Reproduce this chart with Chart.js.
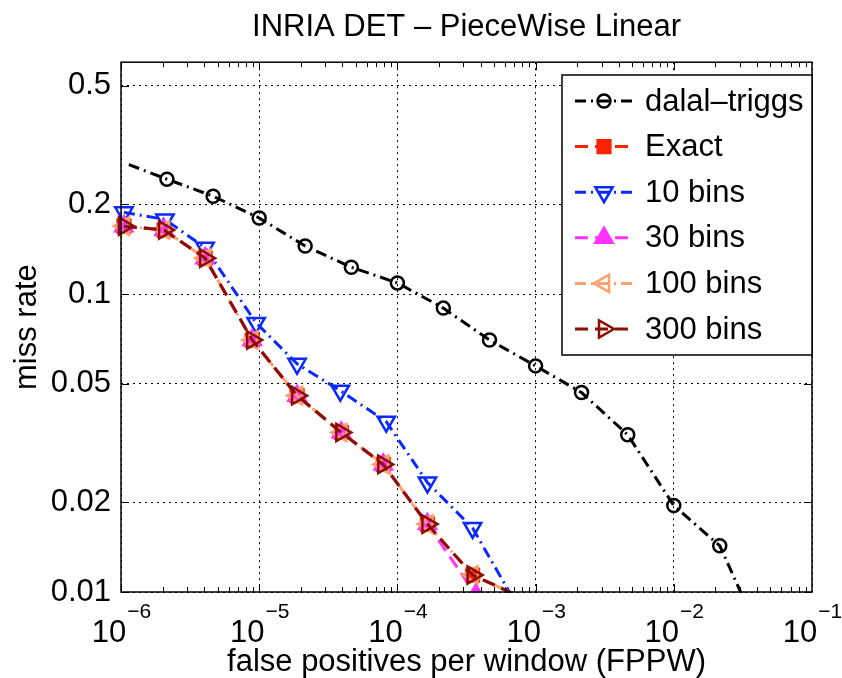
<!DOCTYPE html>
<html>
<head>
<meta charset="utf-8">
<script src="https://cdn.jsdelivr.net/npm/chart.js@4.4.1/dist/chart.umd.min.js"></script>
<style>
  html, body { margin: 0; padding: 0; background: #fff; }
</style>
</head>
<body>
<canvas id="det" width="842" height="678"></canvas>
<script>
// ---- data (x = false positives per window, y = miss rate)
const seriesNames = ['dalal\u2013triggs', 'Exact', '10 bins', '30 bins', '100 bins', '300 bins'];

const dalalFppw = [1.14e-6, 2.15e-6, 4.64e-6, 1e-5, 2.15e-5, 4.64e-5, 1e-4, 2.15e-4, 4.64e-4, 1e-3, 2.15e-3, 4.64e-3, 1e-2, 2.15e-2, 3.2e-2];
const dalalMiss = [0.272, 0.243, 0.213, 0.180, 0.145, 0.123, 0.109, 0.0897, 0.0701, 0.0574, 0.0467, 0.0337, 0.0195, 0.0143, 0.0095];

const exactFppw = [1.05e-6, 2.05e-6, 4.06e-6, 8.9e-6, 1.88e-5, 3.93e-5, 7.9e-5, 1.65e-4, 3.5e-4, 6.8e-4];
const exactMiss = [0.169, 0.164, 0.132, 0.0701, 0.0456, 0.0343, 0.0268, 0.0169, 0.0114, 0.0099];

const bins10Fppw = [1.05e-6, 2.08e-6, 4.06e-6, 9.5e-6, 1.88e-5, 3.86e-5, 8.3e-5, 1.65e-4, 3.5e-4, 6.7e-4];
const bins10Miss = [0.188, 0.178, 0.143, 0.080, 0.0583, 0.0474, 0.0373, 0.0233, 0.0164, 0.0097];

const bins30Fppw = [1.05e-6, 2.05e-6, 4.06e-6, 8.9e-6, 1.88e-5, 3.93e-5, 7.9e-5, 1.65e-4, 3.7e-4];
const bins30Miss = [0.169, 0.164, 0.132, 0.0701, 0.0456, 0.0343, 0.0268, 0.0169, 0.0098];

const bins100Fppw = [1.05e-6, 2.05e-6, 4.06e-6, 8.9e-6, 1.88e-5, 3.93e-5, 7.9e-5, 1.65e-4, 3.5e-4, 6.8e-4];
const bins100Miss = [0.169, 0.164, 0.132, 0.0701, 0.0456, 0.0343, 0.0268, 0.0169, 0.0114, 0.0099];

const bins300Fppw = [1.05e-6, 2.05e-6, 4.06e-6, 8.9e-6, 1.88e-5, 3.93e-5, 7.9e-5, 1.65e-4, 3.5e-4, 6.8e-4];
const bins300Miss = [0.169, 0.164, 0.132, 0.0701, 0.0456, 0.0343, 0.0268, 0.0169, 0.0114, 0.0099];

const xTickValues = [1e-6, 1e-5, 1e-4, 1e-3, 1e-2, 1e-1];
const xTickExponents = ['\u22126', '\u22125', '\u22124', '\u22123', '\u22122', '\u22121'];
const yTickValues = [0.01, 0.02, 0.05, 0.1, 0.2, 0.5];
const yTickLabels = ['0.01', '0.02', '0.05', '0.1', '0.2', '0.5'];

const FONT = "'Liberation Sans', Arial, Helvetica, sans-serif";
const DASHED = [13, 7];
const DASHDOT = [11, 5, 2, 5];

const pts = (xs, ys) => xs.map((x, i) => ({ x, y: ys[i] }));
// lines that run on past the last marker (or start before the first) get no marker there
const markerAt = (r, skipFirst, skipLast) => c => {
  const n = c.dataset.data.length;
  if ((skipFirst && c.dataIndex === 0) || (skipLast && c.dataIndex === n - 1)) return 0;
  return r;
};

function series(label, xs, ys, color, dash, style, rot, r, filled, skipFirst, skipLast, order) {
  return {
    label,
    data: pts(xs, ys),
    borderColor: color,
    borderWidth: 3,
    borderDash: dash,
    pointStyle: style,
    pointRotation: rot,
    pointRadius: markerAt(r, skipFirst, skipLast),
    pointBorderColor: color,
    pointBorderWidth: 2.5,
    pointBackgroundColor: filled ? color : 'rgba(0,0,0,0)',
    tension: 0,
    fill: false,
    order,
    clip: { left: 14, top: 0, right: 0, bottom: 1 }
  };
}

const datasets = [
  series(seriesNames[0], dalalFppw, dalalMiss, '#000000', DASHDOT, 'circle', 0, 6.5, false, true, true, 5),
  series(seriesNames[1], exactFppw, exactMiss, '#ff2200', DASHED, 'rect', 0, 9, true, false, true, 4),
  series(seriesNames[2], bins10Fppw, bins10Miss, '#0a28ff', DASHDOT, 'triangle', 180, 10, false, false, true, 3),
  series(seriesNames[3], bins30Fppw, bins30Miss, '#ff33ff', DASHED, 'triangle', 0, 10, true, false, false, 2),
  series(seriesNames[4], bins100Fppw, bins100Miss, '#ffa070', DASHDOT, 'triangle', 270, 10, false, false, true, 1),
  series(seriesNames[5], bins300Fppw, bins300Miss, '#8b0f00', DASHED, 'triangle', 90, 10, false, false, true, 0)
];

// box, inward ticks, superscript x labels
const axisDecor = {
  id: 'axisDecor',
  afterDatasetsDraw(chart) {
    const { ctx, chartArea: a, scales: { x, y } } = chart;
    ctx.save();
    ctx.strokeStyle = '#000';
    ctx.lineWidth = 1;
    ctx.beginPath();
    for (let d = -6; d < -1; d++) {
      for (let m = 1; m <= 9; m++) {
        const px = Math.round(x.getPixelForValue(m * Math.pow(10, d))) + 0.5;
        const len = m === 1 ? 8 : 5;
        ctx.moveTo(px, a.bottom); ctx.lineTo(px, a.bottom - len);
        ctx.moveTo(px, a.top); ctx.lineTo(px, a.top + len);
      }
    }
    yTickValues.forEach(v => {
      const py = Math.round(y.getPixelForValue(v)) + 0.5;
      ctx.moveTo(a.left, py); ctx.lineTo(a.left + 8, py);
      ctx.moveTo(a.right, py); ctx.lineTo(a.right - 8, py);
    });
    ctx.stroke();
    ctx.lineWidth = 1.5;
    ctx.strokeRect(a.left, a.top, a.right - a.left, a.bottom - a.top);

    ctx.fillStyle = '#000';
    ctx.textBaseline = 'alphabetic';
    ctx.textAlign = 'left';
    xTickValues.forEach((v, i) => {
      const px = x.getPixelForValue(v);
      ctx.font = '31px ' + FONT;
      const wb = ctx.measureText('10').width;
      ctx.font = '21px ' + FONT;
      const we = ctx.measureText(xTickExponents[i]).width;
      const x0 = px - (wb + we) / 2;
      ctx.font = '31px ' + FONT;
      ctx.fillText('10', x0, a.bottom + 50);
      ctx.font = '21px ' + FONT;
      ctx.fillText(xTickExponents[i], x0 + wb + 1, a.bottom + 26);
    });
    ctx.restore();
  }
};

// MATLAB-style legend box in the upper right
const boxLegend = {
  id: 'boxLegend',
  afterDraw(chart) {
    const { ctx } = chart;
    const L = 562, T = 75, R = 812, B = 355;
    ctx.save();
    ctx.fillStyle = '#fff';
    ctx.fillRect(L, T, R - L, B - T);
    ctx.strokeStyle = '#000';
    ctx.lineWidth = 1.5;
    ctx.strokeRect(L, T, R - L, B - T);
    chart.data.datasets.forEach((ds, i) => {
      const cy = 101 + i * 45.6;
      ctx.save();
      ctx.strokeStyle = ds.borderColor;
      ctx.lineWidth = ds.borderWidth;
      ctx.setLineDash(ds.borderDash);
      ctx.beginPath();
      ctx.moveTo(575, cy); ctx.lineTo(634, cy);
      ctx.stroke();
      ctx.setLineDash([]);
      ctx.strokeStyle = ds.pointBorderColor;
      ctx.fillStyle = ds.pointBackgroundColor;
      ctx.lineWidth = ds.pointBorderWidth;
      const r = ds.pointStyle === 'circle' ? 6.5 : (ds.pointStyle === 'rect' ? 9 : 10);
      Chart.helpers.drawPoint(ctx, {
        pointStyle: ds.pointStyle, rotation: ds.pointRotation,
        radius: r, borderWidth: ds.pointBorderWidth
      }, 604, cy);
      ctx.restore();
      ctx.fillStyle = '#000';
      ctx.font = '31px ' + FONT;
      ctx.textBaseline = 'middle';
      ctx.textAlign = 'left';
      ctx.fillText(ds.label, 645, cy + 1);
    });
    ctx.restore();
  }
};

new Chart(document.getElementById('det'), {
  type: 'line',
  data: { datasets },
  options: {
    responsive: false,
    animation: false,
    layout: { padding: { left: 0, right: 30, top: 0, bottom: 0 } },
    plugins: {
      legend: { display: false },
      tooltip: { enabled: false },
      title: {
        display: true,
        fullSize: false,
        text: 'INRIA DET \u2013 PieceWise Linear',
        color: '#000',
        font: { family: FONT, size: 31, weight: 'normal', lineHeight: 1.2 },
        padding: { top: 9, bottom: 16 }
      }
    },
    scales: {
      x: {
        type: 'logarithmic',
        min: 1e-6,
        max: 1e-1,
        afterBuildTicks: s => { s.ticks = xTickValues.map(v => ({ value: v })); },
        afterFit: s => { s.height = 86; },
        ticks: { display: false },
        grid: { color: '#000', lineWidth: 1, drawTicks: false },
        border: { display: false, dash: [2, 4] },
        title: {
          display: true,
          text: 'false positives per window (FPPW)',
          color: '#000',
          font: { family: FONT, size: 31, lineHeight: 1 },
          padding: { top: 0, bottom: 0 }
        }
      },
      y: {
        type: 'logarithmic',
        min: 0.01,
        max: 0.6,
        afterBuildTicks: s => { s.ticks = yTickValues.map(v => ({ value: v })); },
        afterFit: s => { s.width = 121; },
        ticks: {
          color: '#000',
          padding: 10,
          font: { family: FONT, size: 31 },
          callback: (v, i) => yTickLabels[i]
        },
        grid: { color: '#000', lineWidth: 1, drawTicks: false },
        border: { display: false, dash: [2, 4] },
        title: {
          display: true,
          text: 'miss rate',
          color: '#000',
          font: { family: FONT, size: 31, lineHeight: 1 },
          padding: { top: 12, bottom: 0 }
        }
      }
    }
  },
  plugins: [axisDecor, boxLegend]
});
</script>
</body>
</html>
